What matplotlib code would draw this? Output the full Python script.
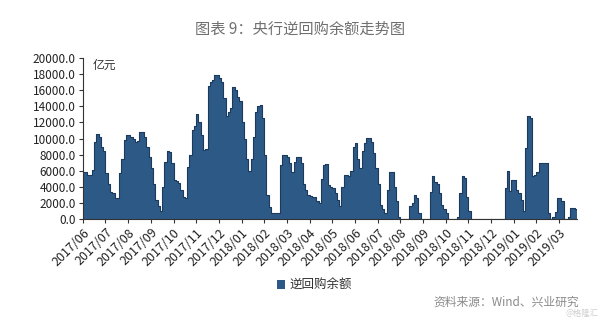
import matplotlib
matplotlib.use("Agg")
import matplotlib.pyplot as plt
import numpy as np

plt.rcParams['font.family'] = ['Noto Sans CJK SC', 'DejaVu Sans']

# 逆回购余额 (亿元), ~10 readings per month
rr_2017 = [
    5900, 5800, 5500, 5500, 6100, 9600, 10600, 10200, 9000, 8400,
    5700, 4400, 3400, 3200, 2600, 2600, 5700, 7500, 9800, 10400,
    10400, 10200, 9900, 9600, 9700, 10800, 10800, 10200, 8900, 7700,
    6300, 4400, 2400, 1600, 1000, 4000, 7100, 8400, 8300, 7000,
    4900, 4700, 4500, 3600, 2800, 2600, 6500, 8000, 11000, 11600,
    13100, 12000, 10500, 8600, 8700, 16500, 17000, 17300, 17900, 17900,
    17500, 17000, 15000, 12800, 13300, 13800, 16400, 16000, 15200, 14600,
]
rr_2018 = [
    12000, 10000, 7500, 6000, 7500, 10200, 13300, 14000, 14200, 12500,
    8000, 3000, 1500, 750, 750, 750, 750, 6700, 7900, 7900,
    7700, 6900, 5900, 7100, 7700, 7700, 6900, 4400, 3600, 3000,
    2900, 2800, 2700, 2200, 2000, 5000, 6700, 6800, 4200, 4000,
    3900, 3200, 2400, 1600, 4000, 5500, 5500, 5300, 6000, 9000,
    9400, 7500, 6300, 8500, 9400, 10100, 10100, 9600, 8200, 6300,
    4400, 1800, 1200, 800, 3600, 5900, 5900, 4000, 2200, 300,
    0, 0, 0, 0, 1600, 2000, 3000, 2600, 800, 0,
    0, 0, 0, 3400, 5300, 4600, 4400, 3200, 1800, 1200,
    800, 0, 0, 0, 0, 300, 3200, 5300, 5100, 2800,
    1000, 0, 0, 0, 0, 0, 0, 0, 0, 0,
    0, 0, 0, 0, 0, 0,
]
rr_2019 = [
    3800, 6000, 3500, 4800, 4800, 3600, 3200, 2400, 1000, 8800,
    12800, 12500, 5300, 5500, 5900, 6900, 6900, 6900, 6900, 800,
    0, 300, 900, 2600, 2600, 2200, 0, 0, 300, 1400,
    1400, 1200,
]
months = ["2017/06", "2017/07", "2017/08", "2017/09", "2017/10", "2017/11",
          "2017/12", "2018/01", "2018/02", "2018/03", "2018/04", "2018/05",
          "2018/06", "2018/07", "2018/08", "2018/09", "2018/10", "2018/11",
          "2018/12", "2019/01", "2019/02", "2019/03"]
yticks = [0, 2000, 4000, 6000, 8000, 10000, 12000, 14000, 16000, 18000, 20000]

values = np.array(rr_2017 + rr_2018 + rr_2019)
x = np.arange(len(values))

fig = plt.figure(figsize=(6, 3.17), dpi=100)
ax = fig.add_axes([0.138, 0.309, 0.824, 0.508])

bars = ax.bar(x, values, width=1.0, color="#2d5987", linewidth=0, label="逆回购余额")
ax.step(x, values, where="mid", color="#1c3b5c", linewidth=0.8)

ax.set_xlim(-0.5, len(values) - 0.5)
ax.set_ylim(0, 20000)
ax.set_yticks(yticks)
ax.set_yticklabels([f"{v:.1f}" for v in yticks], fontsize=8.5, color="#222222")
ax.set_xticks(np.arange(len(months)) * 10 - 0.5)
ax.set_xticklabels(months, rotation=45, ha="right", rotation_mode="anchor",
                   fontsize=9, color="#222222")
ax.tick_params(axis="both", direction="out", length=3, width=0.8, color="#333333", pad=2)
for side in ["top", "right"]:
    ax.spines[side].set_visible(False)
for side in ["left", "bottom"]:
    ax.spines[side].set_color("#333333")
    ax.spines[side].set_linewidth(0.8)

fig.text(93 / 600, 1 - 65 / 317, "亿元", fontsize=8.5, color="#333333", va="center", ha="left")
fig.text(0.5, 1 - 29 / 317, "图表 9：央行逆回购余额走势图", fontsize=11, color="#707070",
         ha="center", va="center")

fig.legend(handles=[bars], loc="center", bbox_to_anchor=(314 / 600, 1 - 285 / 317),
           frameon=False, fontsize=9, handlelength=0.7, handleheight=0.7,
           handletextpad=0.3, labelcolor="#333333")

fig.text(579 / 600, 1 - 302 / 317, "资料来源：Wind、兴业研究", fontsize=8.5,
         color="#8a8a8a", ha="right", va="center")
fig.text(599 / 600, 1 - 313.5 / 317, "@格隆汇", fontsize=6, color="#cfcfcf",
         ha="right", va="center")

fig.savefig("out.png", dpi=100)
